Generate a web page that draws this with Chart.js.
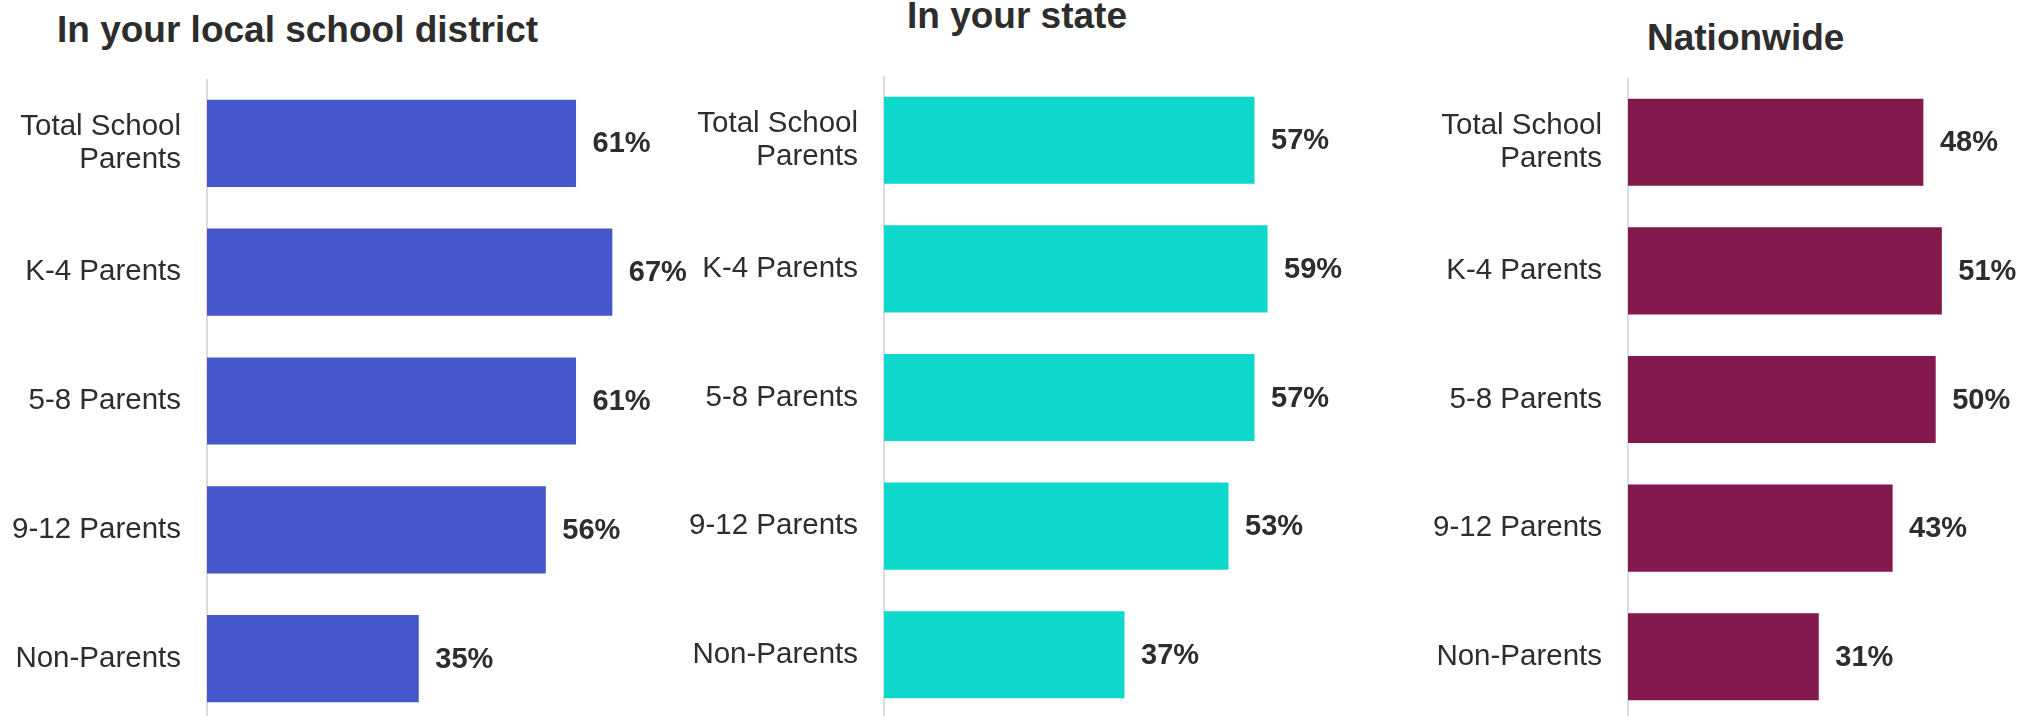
<!DOCTYPE html>
<html>
<head>
<meta charset="utf-8">
<script src="https://cdn.jsdelivr.net/npm/chart.js@4.4.1/dist/chart.umd.min.js"></script>
<style>
  html, body { margin: 0; padding: 0; background: #fff; overflow: hidden; }
  body { width: 2030px; height: 716px; position: relative; }
  .title {
    position: absolute;
    font: bold 37px 'Liberation Sans', Arial, sans-serif;
    line-height: 37px;
    color: #2d2d2d;
    white-space: nowrap;
  }
  canvas { position: absolute; }
</style>
</head>
<body>
<div class="title" style="left:57px; top:11px;">In your local school district</div>
<div class="title" style="left:907px; top:-3px;">In your state</div>
<div class="title" style="left:1647px; top:19px;">Nationwide</div>

<canvas id="district" width="700" height="644" style="left:0px; top:79px;"></canvas>
<canvas id="state" width="680" height="643" style="left:684px; top:76px;"></canvas>
<canvas id="nation" width="600" height="643" style="left:1428px; top:78px;"></canvas>

<script>
// categories (top to bottom)
const categories = [['Total School', 'Parents'], 'K-4 Parents', '5-8 Parents', '9-12 Parents', 'Non-Parents'];

// percentages per panel
const districtValues = [61, 67, 61, 56, 35];
const stateValues = [57, 59, 57, 53, 37];
const nationValues = [48, 51, 50, 43, 31];

const FONT = "'Liberation Sans', Arial, sans-serif";
const TEXT = '#2d2d2d';

// draws "61%" next to each bar
const valueLabels = {
    id: 'valueLabels',
    afterDatasetsDraw(chart) {
        const ctx = chart.ctx;
        const meta = chart.getDatasetMeta(0);
        const data = chart.data.datasets[0].data;
        ctx.save();
        ctx.font = 'bold 29px ' + FONT;
        ctx.fillStyle = TEXT;
        ctx.textAlign = 'left';
        ctx.textBaseline = 'middle';
        meta.data.forEach((bar, i) => {
            ctx.fillText(data[i] + '%', bar.x + 16.5, bar.y + 1);
        });
        ctx.restore();
    }
};

// extra right padding leaves room for the value labels without changing the scale
function makeChart(id, values, color, axisWidth, xMax, padRight) {
    return new Chart(document.getElementById(id), {
        type: 'bar',
        data: {
            labels: categories,
            datasets: [{
                data: values,
                backgroundColor: color,
                borderWidth: 0,
                categoryPercentage: 1,
                barPercentage: 0.677
            }]
        },
        options: {
            indexAxis: 'y',
            responsive: false,
            animation: false,
            layout: { padding: { left: 0, top: 0, bottom: 0, right: padRight } },
            plugins: {
                legend: { display: false },
                tooltip: { enabled: false }
            },
            scales: {
                x: {
                    display: false,
                    min: 0,
                    max: xMax
                },
                y: {
                    grid: { display: false, drawTicks: false },
                    border: { display: true, color: '#dcdcdc', width: 2 },
                    ticks: {
                        padding: 26,
                        color: TEXT,
                        font: { family: FONT, size: 29.5, lineHeight: 1.13 }
                    },
                    afterFit: function (scale) {
                        scale.width = axisWidth;
                        scale.paddingTop = 0;
                        scale.paddingBottom = 0;
                    }
                }
            }
        },
        plugins: [valueLabels]
    });
}

makeChart('district', districtValues, '#4657CC', 207, 80, 9);
makeChart('state', stateValues, '#0ED7CC', 200, 70, 25);
makeChart('nation', nationValues, '#83184C', 200, 65, 0);
</script>
</body>
</html>
